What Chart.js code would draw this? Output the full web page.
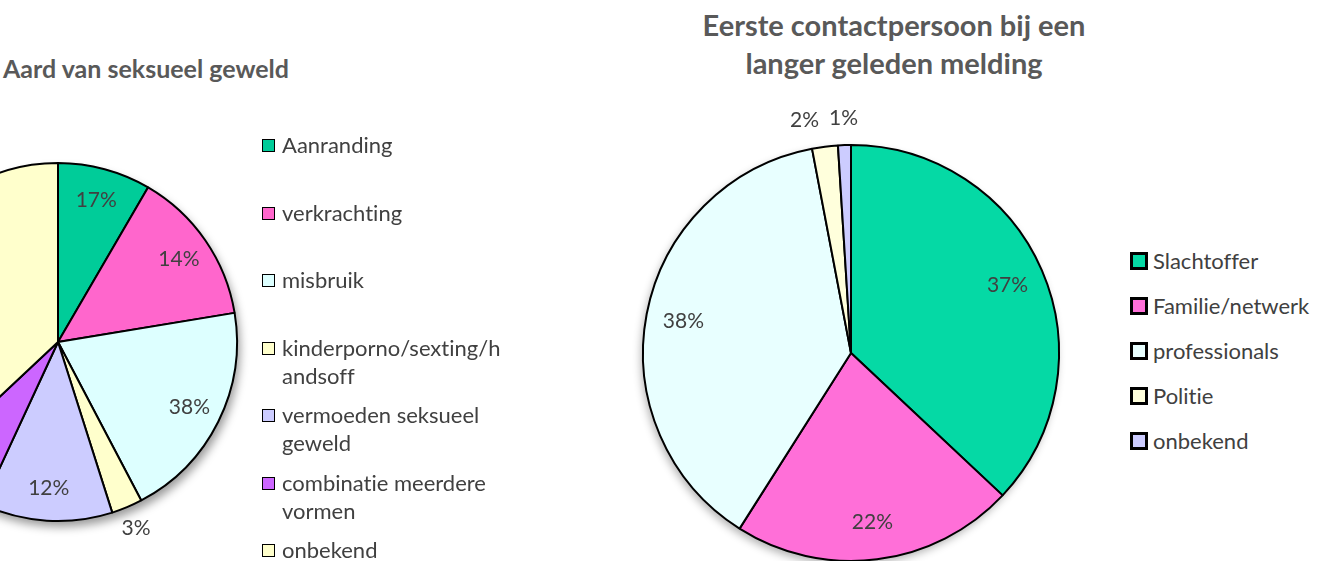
<!DOCTYPE html>
<html lang="nl">
<head>
<meta charset="UTF-8">
<title>Seksueel geweld</title>
<script src="https://cdn.jsdelivr.net/npm/chart.js"></script>
<style>
  body { margin: 0; width: 1330px; height: 561px; overflow: hidden; background: #fff; position: relative;
         font-family: Lato, sans-serif; font-variant-ligatures: none; font-feature-settings: "liga" 0; }
  canvas { position: absolute; }
  #pieLeft { left: -162px; top: 122px; }
  #pieRight { left: 591px; top: 93px; }
  .title { position: absolute; color: #595959; font-weight: bold; text-align: center; line-height: 38px; white-space: nowrap; }
  #titleLeft { left: 0; width: 292px; top: 49px; font-size: 25px; }
  #titleRight { left: 644px; width: 500px; top: 6px; font-size: 29px; }
  .legend { position: absolute; color: #404040; font-size: 22px; }
  .legend .item { position: relative; padding-left: 20px; line-height: 28px; box-sizing: border-box; }
  .legend .box { position: absolute; left: 0; top: 8px; width: 13px; height: 13px; border: 1.5px solid #000; box-sizing: border-box; }
  #legendLeft { left: 262px; top: 131px; width: 242px; }
  #legendLeft .item { height: 67.5px; overflow-wrap: anywhere; }
  #legendRight { left: 1130px; top: 247px; }
  #legendRight .item { height: 45px; padding-left: 23px; white-space: nowrap; }
  #legendRight .box { width: 18px; height: 18px; border: 3px solid #000; top: 5px; }
</style>
</head>
<body>
  <div class="title" id="titleLeft">Aard van seksueel geweld</div>
  <div class="title" id="titleRight">Eerste contactpersoon bij een<br>langer geleden melding</div>

  <canvas id="pieLeft" width="440" height="440"></canvas>
  <canvas id="pieRight" width="520" height="520"></canvas>

  <div class="legend" id="legendLeft"></div>
  <div class="legend" id="legendRight"></div>

<script>
// left chart: aard van seksueel geweld
const aardLabels = ['Aanranding', 'verkrachting', 'misbruik', 'kinderporno/sexting/handsoff',
                    'vermoeden seksueel geweld', 'combinatie meerdere vormen', 'onbekend'];
const aardValues = [8.4, 14.0, 19.9, 2.8, 11.8, 6.1, 37.0];
const aardPercent = ['17%', '14%', '38%', '3%', '12%', '6%', '37%'];

// right chart: eerste contactpersoon
const contactLabels = ['Slachtoffer', 'Familie/netwerk', 'professionals', 'Politie', 'onbekend'];
const contactValues = [37, 22, 38, 2, 1];
const contactPercent = ['37%', '22%', '38%', '2%', '1%'];

const aardColors = ['#00CC99', '#FF66CC', '#DDFFFF', '#FFFFCC', '#CCCCFF', '#CC66FF', '#FFFFCC'];
const contactColors = ['#05D9A5', '#FF6FD8', '#E8FFFF', '#FFFFDC', '#CCCCFF'];

// percentage text on (or just outside) each slice
const sliceLabels = {
  id: 'sliceLabels',
  afterDatasetsDraw(chart, args, opts) {
    const ctx = chart.ctx;
    const meta = chart.getDatasetMeta(0);
    const data = chart.data.datasets[0].data;
    const total = data.reduce((a, b) => a + b, 0);
    ctx.save();
    ctx.font = '21px Lato';
    ctx.fillStyle = '#404040';
    ctx.textAlign = 'center';
    ctx.textBaseline = 'middle';
    const spots = meta.data.map((arc, i) => {
      const p = arc.getProps(['x', 'y', 'startAngle', 'endAngle', 'outerRadius'], true);
      const mid = (p.startAngle + p.endAngle) / 2;
      const outside = data[i] / total < 0.04;
      const r = p.outerRadius * (outside ? 1.13 : 0.82);
      return { x: p.x + Math.cos(mid) * r, y: p.y + Math.sin(mid) * r, outside,
               w: ctx.measureText(opts.texts[i]).width };
    });
    // keep neighbouring outside labels from running into each other
    for (let i = spots.length - 2; i >= 0; i--) {
      const a = spots[i], b = spots[i + 1];
      if (!a.outside || !b.outside) continue;
      const need = (a.w + b.w) / 2 + 10;
      if (Math.abs(b.x - a.x) < need && Math.abs(b.y - a.y) < 20) {
        a.x = b.x - need;
      }
    }
    spots.forEach((s, i) => ctx.fillText(opts.texts[i], s.x, s.y));
    ctx.restore();
  }
};

// soft drop shadow under the whole pie
const pieShadow = {
  id: 'pieShadow',
  beforeDatasetsDraw(chart, args, opts) {
    const arc = chart.getDatasetMeta(0).data[0];
    if (!arc) return;
    const p = arc.getProps(['x', 'y', 'outerRadius'], true);
    const ctx = chart.ctx;
    ctx.save();
    ctx.shadowColor = opts.color;
    ctx.shadowBlur = opts.blur;
    ctx.shadowOffsetX = opts.dx;
    ctx.shadowOffsetY = opts.dy;
    ctx.beginPath();
    ctx.arc(p.x, p.y, p.outerRadius, 0, Math.PI * 2);
    ctx.fillStyle = '#fff';
    ctx.fill();
    ctx.restore();
  }
};

function makePie(id, labels, values, colors, texts, pad, shadow) {
  return new Chart(document.getElementById(id), {
    type: 'pie',
    data: {
      labels: labels,
      datasets: [{
        data: values,
        backgroundColor: colors,
        borderColor: '#000',
        borderWidth: 2
      }]
    },
    options: {
      responsive: false,
      animation: false,
      events: [],
      layout: { padding: pad },
      plugins: {
        legend: { display: false },
        tooltip: { enabled: false },
        sliceLabels: { texts: texts },
        pieShadow: shadow
      }
    },
    plugins: [pieShadow, sliceLabels]
  });
}

makePie('pieLeft', aardLabels, aardValues, aardColors, aardPercent, 40,
        { color: 'rgba(0,0,0,0.4)', blur: 10, dx: 3, dy: 6 });
makePie('pieRight', contactLabels, contactValues, contactColors, contactPercent, 51,
        { color: 'rgba(0,0,0,0.3)', blur: 8, dx: -2, dy: 4 });

// html legends built from the same arrays
function buildLegend(elId, labels, colors) {
  const el = document.getElementById(elId);
  labels.forEach((name, i) => {
    const item = document.createElement('div');
    item.className = 'item';
    const box = document.createElement('span');
    box.className = 'box';
    box.style.background = colors[i];
    item.appendChild(box);
    item.appendChild(document.createTextNode(name));
    el.appendChild(item);
  });
}
buildLegend('legendLeft', aardLabels, aardColors);
buildLegend('legendRight', contactLabels, contactColors);
</script>
</body>
</html>
